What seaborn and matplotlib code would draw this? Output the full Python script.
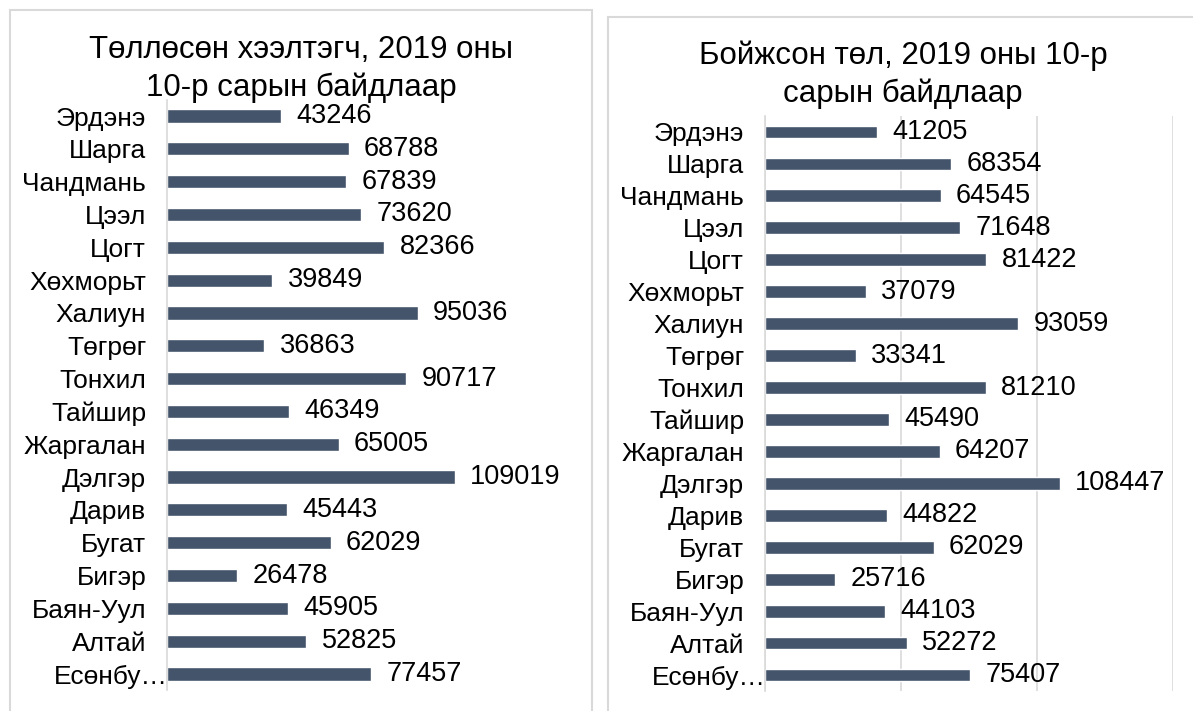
import matplotlib
matplotlib.use("Agg")
import matplotlib.pyplot as plt
import matplotlib.transforms as mtransforms
from matplotlib.patches import Rectangle
import pandas as pd
import seaborn as sns

# Data
soums = ["Эрдэнэ", "Шарга", "Чандмань", "Цээл", "Цогт", "Хөхморьт", "Халиун",
         "Төгрөг", "Тонхил", "Тайшир", "Жаргалан", "Дэлгэр", "Дарив", "Бугат",
         "Бигэр", "Баян-Уул", "Алтай", "Есөнбу…"]
females = [43246, 68788, 67839, 73620, 82366, 39849, 95036, 36863, 90717,
           46349, 65005, 109019, 45443, 62029, 26478, 45905, 52825, 77457]
young = [41205, 68354, 64545, 71648, 81422, 37079, 93059, 33341, 81210,
         45490, 64207, 108447, 44822, 62029, 25716, 44103, 52272, 75407]
title_left = "Төллөсөн хээлтэгч, 2019 оны\n10-р сарын байдлаар"
title_right = "Бойжсон төл, 2019 оны 10-р\nсарын байдлаар"

bar_color = "#44546a"
grey = "#d9d9d9"

sns.set_style("white")
plt.rcParams["font.family"] = ["Liberation Sans", "DejaVu Sans"]
plt.rcParams["text.color"] = "black"
plt.rcParams["ytick.color"] = "black"

W, H = 1193, 711
fig = plt.figure(figsize=(W / 100, H / 100), dpi=100)


def px_axes(x0, x1, y0, y1):
    # pixel box (from top-left) -> figure axes
    return fig.add_axes([x0 / W, 1 - y1 / H, (x1 - x0) / W, (y1 - y0) / H])


# panel borders
fig.add_artist(Rectangle((10 / W, -0.05), 582 / W, 1.05 - 10 / H,
                         transform=fig.transFigure, fill=False,
                         edgecolor=grey, lw=1.5))
fig.add_artist(Rectangle((608 / W, -0.05), 1.0, 1.05 - 17 / H,
                         transform=fig.transFigure, fill=False,
                         edgecolor=grey, lw=1.5))


def draw(ax, values, xmax, grid):
    df = pd.DataFrame({"soum": soums, "value": values})
    sns.barplot(data=df, x="value", y="soum", order=soums, orient="h",
                color=bar_color, width=0.4, saturation=1, ax=ax)
    ax.bar_label(ax.containers[0], labels=[str(v) for v in values],
                 padding=11, fontsize=19.5, color="black")
    ax.set_xlim(0, xmax)
    ax.set_ylim(len(soums) - 0.5, -0.5)
    ax.set_xlabel("")
    ax.set_ylabel("")
    for s in ["top", "right", "bottom"]:
        ax.spines[s].set_visible(False)
    ax.spines["left"].set_color(grey)
    ax.spines["left"].set_linewidth(1.2)
    ax.tick_params(axis="y", length=0, pad=15, labelsize=19, labelcolor="black")
    ax.tick_params(axis="x", length=0, labelbottom=False)
    if grid:
        ax.set_xticks([0, 50000, 100000, 150000])
        ax.grid(axis="x", color=grey, lw=1.2)
        ax.set_axisbelow(True)
    else:
        ax.grid(False)
    # truncated last label sits against the axis
    lbl = ax.get_yticklabels()[-1]
    lbl.set_transform(lbl.get_transform() +
                      mtransforms.ScaledTranslation(0.22, 0, fig.dpi_scale_trans))


ax1 = px_axes(167, 563, 99.6, 690.4)
draw(ax1, females, 150000, False)
ax2 = px_axes(765, 1173, 116, 691)
draw(ax2, young, 150000, True)

fig.text(301 / W, 1 - 69 / H, title_left, ha="center", va="center",
         fontsize=22.5, linespacing=1.3)
fig.text(903 / W, 1 - 75 / H, title_right, ha="center", va="center",
         fontsize=22.5, linespacing=1.3)

fig.savefig("out.png", dpi=100)
